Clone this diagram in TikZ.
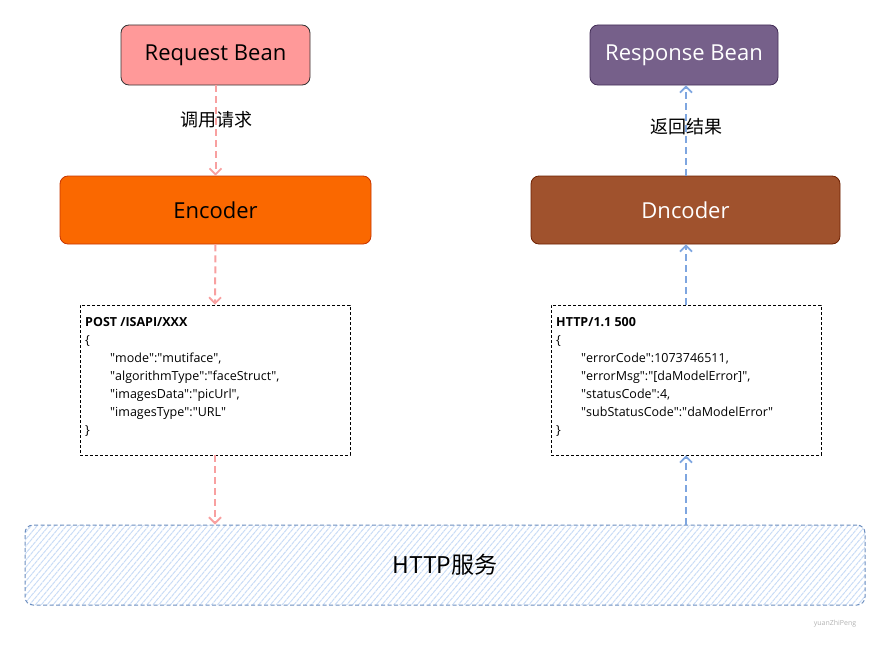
\documentclass[tikz,border=0pt]{standalone}
\usepackage{fontspec}
\setmainfont{Open Sans}
\newfontfamily\cjk{Noto Sans CJK SC}
\usetikzlibrary{arrows.meta,patterns.meta}
\definecolor{reqfill}{HTML}{FF9999}
\definecolor{resfill}{HTML}{76608A}
\definecolor{resdraw}{HTML}{432D57}
\definecolor{encfill}{HTML}{FA6800}
\definecolor{encdraw}{HTML}{C73500}
\definecolor{decfill}{HTML}{A0522D}
\definecolor{decdraw}{HTML}{6D1F00}
\definecolor{pinkarrow}{HTML}{F8A0A0}
\definecolor{bluearrow}{HTML}{7EA6E0}
\definecolor{httpdraw}{HTML}{6C8EBF}
\definecolor{hatch}{HTML}{C9DCF6}
\newcommand{\qq}{\textquotedbl}
\tikzset{
  bigbox/.style={draw, rounded corners=8pt, line width=0.8pt, inner sep=0pt,
    font=\fontsize{22}{26}\selectfont},
  codebox/.style={draw=black, dash pattern=on 3pt off 2pt, line width=0.8pt},
  codetext/.style={anchor=north west, align=left, inner sep=0pt,
    font=\fontsize{12.5}{18}\selectfont},
  pinkflow/.style={draw=pinkarrow, dash pattern=on 7pt off 4pt, line width=2pt,
    -{Straight Barb[length=6pt,width=12pt,line width=1.8pt]}},
  blueflow/.style={draw=bluearrow, dash pattern=on 7pt off 4pt, line width=2pt,
    -{Straight Barb[length=6pt,width=12pt,line width=1.8pt]}},
  flowlabel/.style={font=\cjk\fontsize{18}{20}\selectfont, inner sep=1pt}
}
\begin{document}
\begin{tikzpicture}[x=1pt,y=-1pt]
\useasboundingbox (0,0) rectangle (891,661);

% top boxes
\node[bigbox, fill=reqfill, draw=black!80, minimum width=189pt, minimum height=60pt] (req) at (215.5,55) {Request Bean};
\node[bigbox, fill=resfill, draw=resdraw, text=white, minimum width=188pt, minimum height=60pt] (res) at (684,55) {Response Bean};

% coder boxes
\node[bigbox, fill=encfill, draw=encdraw, minimum width=311pt, minimum height=68pt] (enc) at (215.5,210) {Encoder};
\node[bigbox, fill=decfill, draw=decdraw, text=white, minimum width=309pt, minimum height=68pt] (dec) at (685.5,210) {Dncoder};

% code boxes
\node[codebox, minimum width=270pt, minimum height=150pt, inner sep=0pt] (lcode) at (215,380) {};
\node[codebox, minimum width=270pt, minimum height=150pt, inner sep=0pt] (rcode) at (686,380) {};
\node[codetext] (ltext) at (85,317) {\textbf{POST /ISAPI/XXX}\\
\{\\
\hspace*{25pt}\qq mode\qq:\qq mutiface\qq,\\
\hspace*{25pt}\qq algorithmType\qq:\qq faceStruct\qq,\\
\hspace*{25pt}\qq imagesData\qq:\qq picUrl\qq,\\
\hspace*{25pt}\qq imagesType\qq:\qq URL\qq\\
\}};
\node[codetext] (rtext) at (556,317) {\textbf{HTTP/1.1 500}\\
\{\\
\hspace*{25pt}\qq errorCode\qq:1073746511,\\
\hspace*{25pt}\qq errorMsg\qq:\qq[daModelError]\qq,\\
\hspace*{25pt}\qq statusCode\qq:4,\\
\hspace*{25pt}\qq subStatusCode\qq:\qq daModelError\qq\\
\}};

% http service box
\node[draw=httpdraw, dash pattern=on 4pt off 2.5pt, line width=1pt, rounded corners=8pt,
  pattern={Lines[angle=50,distance=4.5pt,line width=1pt]}, pattern color=hatch,
  minimum width=840pt, minimum height=80pt, inner sep=0pt] (http) at (445,565) {};
\node[font=\cjk\fontsize{23}{26}\selectfont] (httplabel) at (http.center) {HTTP服务};

% arrows left
\draw[pinkflow] (req.south) -- (enc.north);
\node[flowlabel] (lreq) at (216,120) {调用请求};
\draw[pinkflow] (enc.south) -- (lcode.north);
\draw[pinkflow] (lcode.south) -- (lcode.south |- http.north);

% arrows right
\draw[blueflow] (rcode.south |- http.north) -- (rcode.south);
\draw[blueflow] (rcode.north) -- (rcode.north |- dec.south);
\draw[blueflow] (dec.north -| rcode.north) -- (res.south -| rcode.north);
\node[flowlabel] (lres) at (686,127) {返回结果};

% watermark
\node[text=black!30, font=\fontsize{7}{8}\selectfont] (wm) at (835,624) {yuanZhiPeng};
\end{tikzpicture}
\end{document}
